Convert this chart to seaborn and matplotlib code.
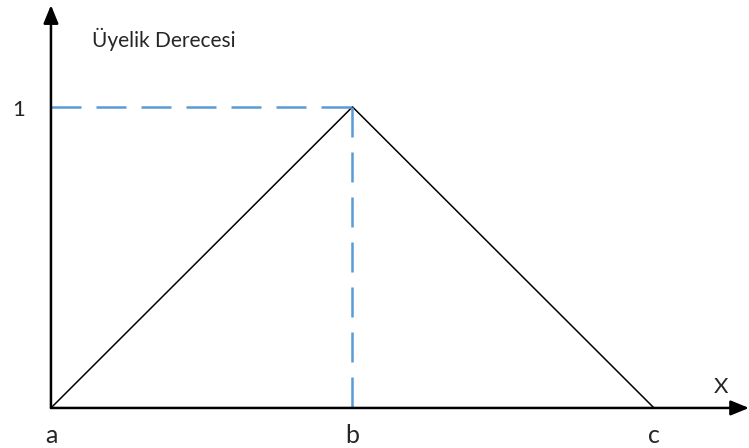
import seaborn as sns
import matplotlib.pyplot as plt
import pandas as pd

# Triangular membership function points
x_points = [0, 1, 2]          # a, b, c
mu_points = [0, 1, 0]
x_labels = ['a', 'b', 'c']
y_label_text = 'Üyelik Derecesi'
x_axis_text = 'X'
peak_label = '1'

df = pd.DataFrame({'x': x_points, 'mu': mu_points})

sns.set_style('white')
plt.rcParams['font.family'] = ['Lato', 'DejaVu Sans']

fig = plt.figure(figsize=(7.49, 4.48), dpi=100)
ax = fig.add_axes([0, 0, 1, 1])

# Triangle
sns.lineplot(data=df, x='x', y='mu', color='black', linewidth=1.1, ax=ax)

# Dashed guides to the peak
peak_x = x_points[1]
peak_y = mu_points[1]
ax.plot([0, peak_x], [peak_y, peak_y], color='#5B9BD5', linewidth=1.8,
        dashes=(12, 6))
ax.plot([peak_x, peak_x], [peak_y, 0], color='#5B9BD5', linewidth=1.8,
        dashes=(12, 6))

# Limits chosen so that 1 unit ~ 301 px
ax.set_xlim(-0.169, 2.315)
ax.set_ylim(-0.133, 1.355)
ax.axis('off')

# Axes with arrows
arrow = dict(arrowstyle='-|>,head_length=1.1,head_width=0.45', color='black',
             linewidth=1.8, shrinkA=0, shrinkB=0)
ax.annotate('', xy=(2.315, 0), xytext=(0, 0), arrowprops=arrow)
ax.annotate('', xy=(0, 1.338), xytext=(0, 0), arrowprops=arrow)

# Labels
for xv, lab in zip(x_points, x_labels):
    ax.text(xv, -0.116, lab, ha='center', va='baseline', fontsize=18)
ax.text(-0.108, 0.97, peak_label, ha='center', va='baseline', fontsize=16)
ax.text(2.222, 0.05, x_axis_text, ha='center', va='baseline', fontsize=16)
ax.text(0.136, 1.199, y_label_text, ha='left', va='baseline', fontsize=15)

if ax.get_legend():
    ax.get_legend().remove()

fig.savefig('out.png', dpi=100)
